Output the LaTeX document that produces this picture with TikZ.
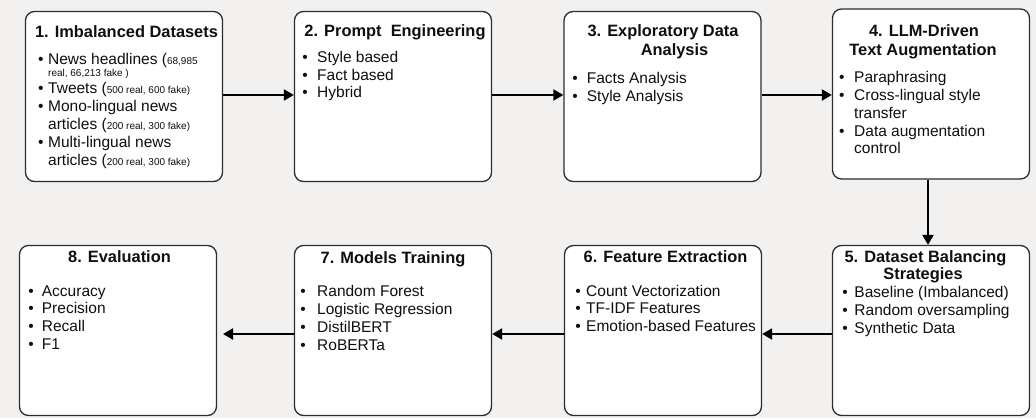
\documentclass[tikz,border=0pt]{standalone}
\usepackage{fontspec}
\setmainfont{Liberation Sans}
\usetikzlibrary{arrows.meta}
\definecolor{bg}{RGB}{242,241,240}
\definecolor{edge}{RGB}{45,45,45}
\definecolor{txt}{RGB}{15,15,15}
\newlength\bw
\newcommand\bi[1]{\hbox{\makebox[\bw][c]{\textbullet}#1}}
\newcommand\ci[1]{\hbox{\hspace*{\bw}#1}}
\newcommand\lst[2]{{\setlength\bw{#1}\fontsize{15.5}{17.8}\selectfont\vtop{\lineskiplimit=-100pt\baselineskip=17.8pt #2}}}
\newcommand\sm[1]{{\fontsize{10}{12}\selectfont #1}}
\tikzset{
 box/.style={draw=edge, line width=1.3pt, fill=white, rounded corners=9pt, minimum width=197pt, minimum height=170pt, inner sep=0pt},
 ttl/.style={anchor=base, inner sep=0pt, font=\fontsize{16.4}{19}\selectfont\bfseries, text=txt},
 lstn/.style={anchor=base west, inner sep=0pt, text=txt},
 arr/.style={line width=2pt, draw=black, -{Triangle[length=10pt,width=11pt]}}
}
\begin{document}
\begin{tikzpicture}[x=1pt,y=-1pt]
\fill[bg] (0,0) rectangle (1036,418);
\useasboundingbox (0,0) rectangle (1036,418);
% boxes
\node[box] (b1) at (124,96.5) {};
\node[box] (b2) at (393,96.5) {};
\node[box] (b3) at (662.5,96.5) {};
\node[box] (b4) at (931,94) {};
\node[box] (b5) at (931,330.5) {};
\node[box] (b6) at (663,330.5) {};
\node[box] (b7) at (393,330.5) {};
\node[box] (b8) at (118,330.5) {};
% titles
\node[ttl] (t1) at (126.5,37.3) {1. Imbalanced Datasets};
\node[ttl] (t2) at (395,36.7) {2. Prompt\ \ Engineering};
\node[ttl] (t3a) at (663,36.7) {3. Exploratory Data};
\node[ttl] (t3b) at (674.5,55) {Analysis};
\node[ttl] (t4a) at (924,36) {4. LLM-Driven};
\node[ttl] (t4b) at (923,55) {Text Augmentation};
\node[ttl] (t5a) at (925.5,262.7) {5. Dataset Balancing};
\node[ttl] (t5b) at (923,279) {Strategies};
\node[ttl] (t6) at (665.5,262.5) {6. Feature Extraction};
\node[ttl] (t7) at (393,263) {7. Models Training};
\node[ttl] (t8) at (119.5,262.5) {8. Evaluation};
% lists
\node[lstn] (l1) at (33.4,64.3) {\lst{14.6pt}{%
\bi{News headlines (\sm{68,985}}
\vskip-6.1pt
\ci{\sm{real, 66,213 fake )}}
\bi{Tweets (\sm{500 real, 600 fake)}}
\bi{Mono-lingual news}
\ci{articles (\sm{200 real, 300 fake)}}
\bi{Multi-lingual news}
\ci{articles (\sm{200 real, 300 fake)}}}};
\node[lstn] (l2) at (293,62.3) {\lst{24pt}{%
\bi{Style based}
\bi{Fact based}
\bi{Hybrid}}};
\node[lstn] (l3) at (563.3,83.3) {\lst{23.4pt}{%
\bi{Facts Analysis}
\bi{Style Analysis}}};
\node[lstn] (l4) at (829.4,82.7) {\lst{24.6pt}{%
\bi{Paraphrasing}
\bi{Cross-lingual style}
\ci{transfer}
\bi{Data augmentation}
\ci{control}}};
\node[lstn] (l5) at (835.7,297.7) {\lst{18.6pt}{%
\bi{Baseline (Imbalanced)}
\bi{Random oversampling}
\bi{Synthetic Data}}};
\node[lstn] (l6) at (570,296) {\lst{16pt}{%
\bi{Count Vectorization}
\bi{TF-IDF Features}
\bi{Emotion-based Features}}};
\node[lstn] (l7) at (289,296.7) {\lst{28pt}{%
\bi{Random Forest}
\bi{Logistic Regression}
\bi{DistilBERT}
\bi{RoBERTa}}};
\node[lstn] (l8) at (20.3,296) {\lst{21.4pt}{%
\bi{Accuracy}
\bi{Precision}
\bi{Recall}
\bi{F1}}};
% connectors
\coordinate (e8) at (223,334);
\draw[arr] ([yshift=1.5pt]b1.east) -- ([yshift=1.5pt]b2.west);
\draw[arr] ([yshift=1.5pt]b2.east) -- ([yshift=1.5pt]b3.west);
\draw[arr] ([yshift=1.5pt]b3.east) -- ([yshift=-1pt]b4.west);
\draw[arr] ([xshift=-3pt]b4.south) -- ([xshift=-3pt]b5.north);
\draw[arr] ([yshift=-3.5pt]b5.west) -- ([yshift=-3.5pt]b6.east);
\draw[arr] ([yshift=-3.5pt]b6.west) -- ([yshift=-3.5pt]b7.east);
\draw[arr] ([yshift=-3.5pt]b7.west) -- (e8);
\end{tikzpicture}
\end{document}
